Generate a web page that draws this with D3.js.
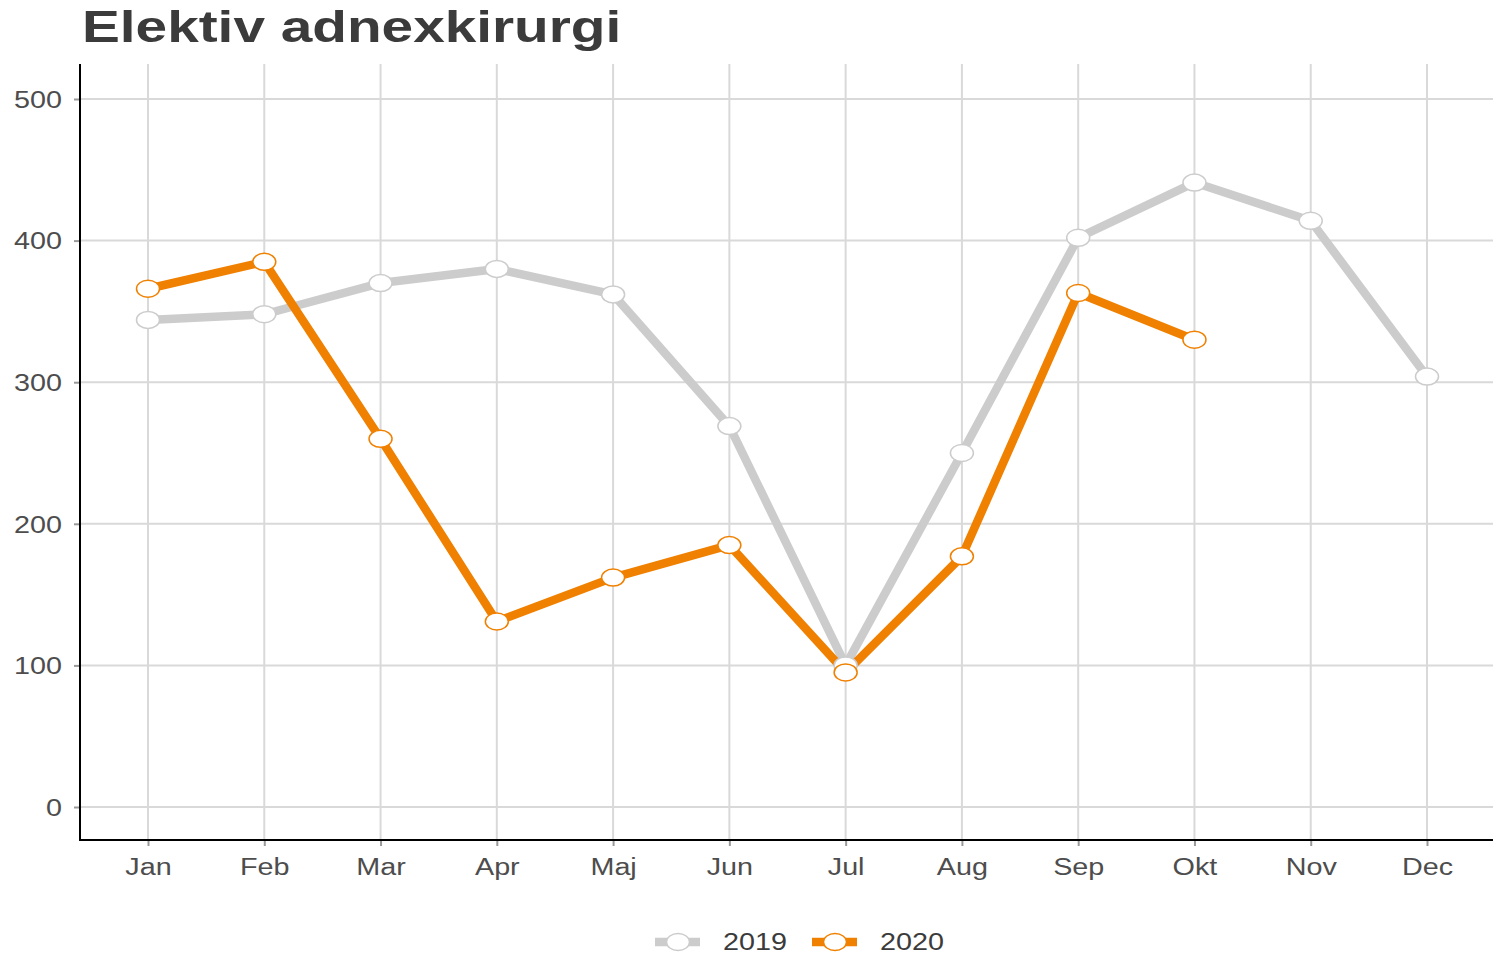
<!DOCTYPE html>
<meta charset="utf-8">
<style>
body { margin: 0; background: white; }
text { font-family: "Liberation Sans", Arial, sans-serif; }
.grid line { stroke: #d9d9d9; stroke-width: 2; }
.title { font-size: 44px; font-weight: bold; fill: #3b3b3b; }
</style>
<svg width="1493" height="954"></svg>
<script src="https://cdn.jsdelivr.net/npm/d3@7"></script>
<script>

var months = ["Jan", "Feb", "Mar", "Apr", "Maj", "Jun", "Jul", "Aug", "Sep", "Okt", "Nov", "Dec"],
    values2019 = [344, 348, 370, 380, 362, 269, 100, 250, 402, 441, 414, 304],
    values2020 = [366, 385, 260, 131, 162, 185, 95, 177, 363, 330],
    yTicks = [0, 100, 200, 300, 400, 500];

var series = [
  {name: "2019", color: "#cccccc", values: values2019},
  {name: "2020", color: "#f08000", values: values2020}
];

var svg = d3.select("svg");

var panel = {left: 80, right: 1493, top: 64, bottom: 840},
    stretch = 1.25; // the reference text is drawn wide

var x = d3.scalePoint()
    .domain(months)
    .range([148, 1427]);

var y = d3.scaleLinear()
    .domain([0, 500])
    .range([807, 99]);

// grid
var grid = svg.append("g").attr("class", "grid");
grid.selectAll(".h").data(yTicks).enter().append("line")
    .attr("x1", panel.left).attr("x2", panel.right)
    .attr("y1", function(d) { return y(d); }).attr("y2", function(d) { return y(d); });
grid.selectAll(".v").data(months).enter().append("line")
    .attr("x1", function(d) { return x(d); }).attr("x2", function(d) { return x(d); })
    .attr("y1", panel.top).attr("y2", panel.bottom);

// axes
var yAxis = svg.append("g")
    .attr("transform", "translate(" + panel.left + ",0)")
    .call(d3.axisLeft(y).tickValues(yTicks).tickSize(6));
var xAxis = svg.append("g")
    .attr("transform", "translate(0," + panel.bottom + ")")
    .call(d3.axisBottom(x).tickSize(6));

[yAxis, xAxis].forEach(function(a) {
  a.select(".domain").remove();
  a.selectAll(".tick line").attr("stroke", "#999").attr("stroke-width", 2);
  a.selectAll(".tick text")
      .attr("fill", "#4d4d4d")
      .style("font-size", "23px")
      .style("font-family", "'Liberation Sans', Arial, sans-serif");
});
yAxis.selectAll(".tick text")
    .attr("x", -18 / stretch)
    .attr("dy", "0.36em")
    .attr("transform", "scale(" + stretch + ",1)");
xAxis.selectAll(".tick text")
    .attr("y", 35)
    .attr("dy", 0)
    .attr("transform", "scale(" + stretch + ",1)");

svg.append("line")
    .attr("x1", panel.left).attr("x2", panel.left)
    .attr("y1", panel.top).attr("y2", panel.bottom + 1)
    .attr("stroke", "black").attr("stroke-width", 2);
svg.append("line")
    .attr("x1", panel.left - 1).attr("x2", panel.right)
    .attr("y1", panel.bottom).attr("y2", panel.bottom)
    .attr("stroke", "black").attr("stroke-width", 2);

// lines
var line = d3.line()
    .x(function(d, i) { return x(months[i]); })
    .y(function(d) { return y(d); });

svg.selectAll(".series-line").data(series).enter().append("path")
    .attr("fill", "none")
    .attr("stroke", function(d) { return d.color; })
    .attr("stroke-width", 8.5)
    .attr("stroke-linejoin", "round")
    .attr("d", function(d) { return line(d.values); });

series.forEach(function(s) {
  svg.append("g").selectAll("ellipse").data(s.values).enter().append("ellipse")
      .attr("cx", function(d, i) { return x(months[i]); })
      .attr("cy", function(d) { return y(d); })
      .attr("rx", 11.5).attr("ry", 8.5)
      .attr("fill", "white")
      .attr("stroke", s.color)
      .attr("stroke-width", 1.5);
});

// title
svg.append("text")
    .attr("class", "title")
    .attr("transform", "translate(82,42) scale(1.29,1)")
    .text("Elektiv adnexkirurgi");

// legend
var legend = svg.append("g").selectAll("g").data(series).enter().append("g")
    .attr("transform", function(d, i) { return "translate(" + (678 + i * 157) + ",942)"; });
legend.append("line")
    .attr("x1", -23).attr("x2", 22)
    .attr("stroke", function(d) { return d.color; })
    .attr("stroke-width", 8.5);
legend.append("ellipse")
    .attr("rx", 11.5).attr("ry", 8.5)
    .attr("fill", "white")
    .attr("stroke", function(d) { return d.color; })
    .attr("stroke-width", 1.5);
legend.append("text")
    .attr("transform", "translate(45,8) scale(" + stretch + ",1)")
    .attr("fill", "#3b3b3b")
    .style("font-size", "23px")
    .text(function(d) { return d.name; });

</script>
